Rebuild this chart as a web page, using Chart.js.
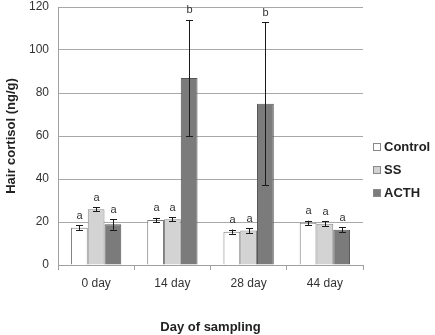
<!DOCTYPE html>
<html>
<head>
<meta charset="utf-8">
<script src="https://cdn.jsdelivr.net/npm/chart.js@4.4.0/dist/chart.umd.min.js"></script>
<style>
  html, body { margin: 0; padding: 0; background: #fff; }
  #wrap { width: 435px; height: 335px; }
</style>
</head>
<body>
<div id="wrap"><canvas id="cortisol"></canvas></div>
<script>
const days = ['0 day', '14 day', '28 day', '44 day']
const seriesNames = ['Control', 'SS', 'ACTH']

const controlMean = [17.3, 20.9, 15.5, 19.6]
const ssMean = [25.9, 21.3, 16.0, 19.2]
const acthMean = [18.9, 87.0, 75.0, 16.4]

const controlErr = [1.2, 1.0, 1.0, 1.0]
const ssErr = [1.0, 1.0, 1.2, 1.2]
const acthErr = [2.5, 27.0, 38.0, 1.2]

const controlLetters = ['a', 'a', 'a', 'a']
const ssLetters = ['a', 'a', 'a', 'a']
const acthLetters = ['a', 'b', 'b', 'a']

const fills = ['#ffffff', '#d3d3d3', '#7b7b7b']
const borders = ['#7a7a7a', '#8a8a8a', '#555555']

// error bars + significance letters
const errorBars = {
  id: 'errorBars',
  afterDatasetsDraw (chart) {
    const ctx = chart.ctx
    const y = chart.scales.y
    chart.data.datasets.forEach((ds, i) => {
      const meta = chart.getDatasetMeta(i)
      meta.data.forEach((bar, j) => {
        const v = ds.data[j]
        const e = ds.err[j]
        const top = y.getPixelForValue(v + e)
        const bot = y.getPixelForValue(v - e)
        const x = Math.round(bar.x) + 0.5
        ctx.save()
        ctx.strokeStyle = '#1a1a1a'
        ctx.lineWidth = 1
        ctx.beginPath()
        ctx.moveTo(x, top); ctx.lineTo(x, bot)
        ctx.moveTo(x - 3.5, Math.round(top) + 0.5); ctx.lineTo(x + 3.5, Math.round(top) + 0.5)
        ctx.moveTo(x - 3.5, Math.round(bot) + 0.5); ctx.lineTo(x + 3.5, Math.round(bot) + 0.5)
        ctx.stroke()
        ctx.fillStyle = '#333'
        ctx.font = '11px "Liberation Sans Narrow", "Liberation Sans", Arial'
        ctx.textAlign = 'center'
        ctx.textBaseline = 'bottom'
        ctx.fillText(ds.letters[j], x, top - 4)
        ctx.restore()
      })
    })
  }
}

// legend drawn on the right, as in the original
const sideLegend = {
  id: 'sideLegend',
  afterDraw (chart) {
    const ctx = chart.ctx
    const left = chart.chartArea.right + 10
    const mid = (chart.chartArea.top + chart.chartArea.bottom) / 2
    ctx.save()
    ctx.font = 'bold 13px "Liberation Sans", Arial'
    ctx.textBaseline = 'middle'
    chart.data.datasets.forEach((ds, i) => {
      const cy = Math.round(mid + 11 + i * 23)
      ctx.fillStyle = fills[i]
      ctx.fillRect(left + 0.5, cy - 3.5, 7, 7)
      ctx.strokeStyle = '#888'
      ctx.lineWidth = 1
      ctx.strokeRect(left + 0.5, cy - 3.5, 7, 7)
      ctx.fillStyle = '#222'
      ctx.fillText(ds.label, left + 11, cy)
    })
    ctx.restore()
  }
}

const makeSet = (i, data, err, letters) => ({
  label: seriesNames[i],
  data: data,
  err: err,
  letters: letters,
  backgroundColor: fills[i],
  borderColor: borders[i],
  borderWidth: 1,
  categoryPercentage: 0.66,
  barPercentage: 1.0
})

let chart = new Chart(document.querySelector('#cortisol'), {
  type: 'bar',
  plugins: [errorBars, sideLegend],
  data: {
    labels: days,
    datasets: [
      makeSet(0, controlMean, controlErr, controlLetters),
      makeSet(1, ssMean, ssErr, ssLetters),
      makeSet(2, acthMean, acthErr, acthLetters)
    ]
  },
  options: {
    responsive: true,
    maintainAspectRatio: false,
    animation: false,
    layout: {
      padding: { top: 7, right: 72, left: 0, bottom: 0 }
    },
    scales: {
      x: {
        offset: true,
        grid: {
          offset: true,
          drawOnChartArea: false,
          color: '#a0a0a0',
          tickLength: 5
        },
        border: { color: '#a0a0a0' },
        ticks: {
          color: '#333',
          font: { family: '"Liberation Sans", Arial', size: 12 },
          padding: 6
        },
        title: {
          display: true,
          text: 'Day of sampling',
          color: '#222',
          font: { family: '"Liberation Sans", Arial', size: 13, weight: 'bold' },
          padding: { top: 27, bottom: 0 }
        },
        afterFit (scale) { scale.height = 70 }
      },
      y: {
        min: 0,
        max: 120,
        ticks: {
          stepSize: 20,
          color: '#333',
          font: { family: '"Liberation Sans", Arial', size: 12 },
          padding: 9
        },
        grid: {
          color: '#a8a8a8',
          drawTicks: false
        },
        border: { color: '#a0a0a0' },
        title: {
          display: true,
          text: 'Hair cortisol (ng/g)',
          color: '#222',
          font: { family: '"Liberation Sans", Arial', size: 13, weight: 'bold' },
          padding: { top: 4, bottom: 8 }
        },
        afterFit (scale) {
          scale.width = 58
          scale.paddingTop = 0
          scale.paddingBottom = 0
        }
      }
    },
    plugins: {
      legend: { display: false },
      tooltip: { enabled: false }
    }
  }
})
</script>
</body>
</html>
